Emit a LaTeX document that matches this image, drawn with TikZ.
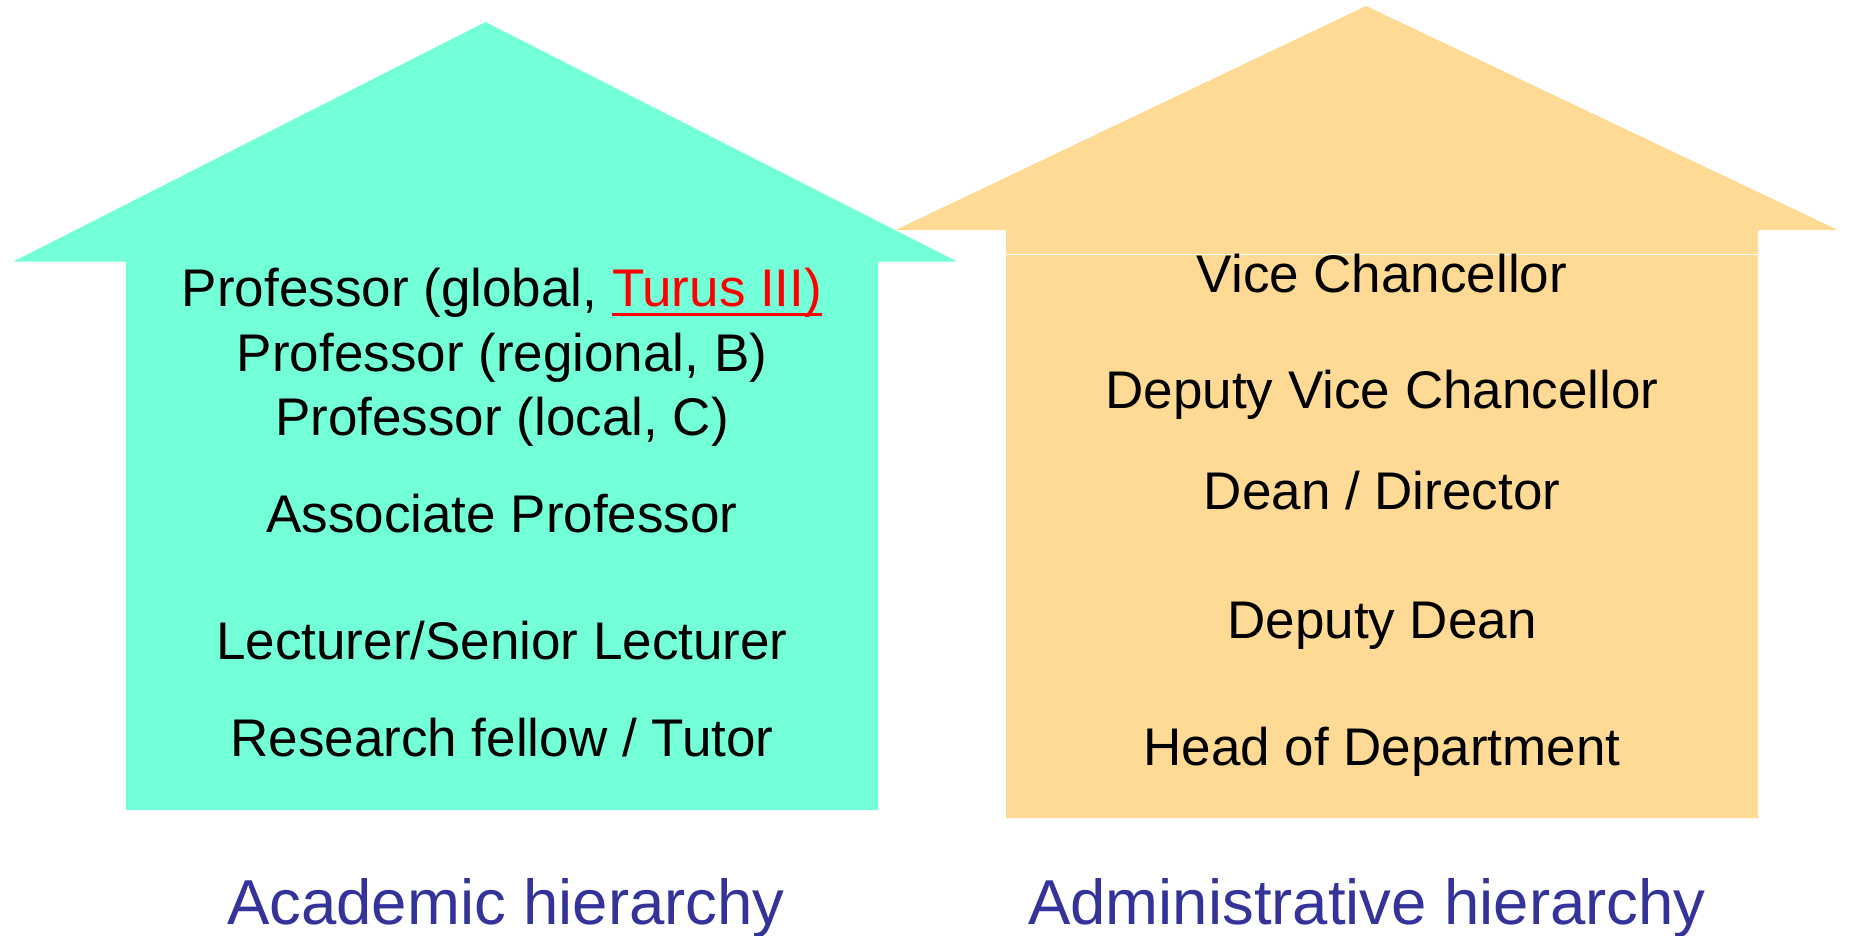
\documentclass[tikz,border=0pt]{standalone}
\usepackage{fontspec}
\setmainfont{Liberation Sans}
\definecolor{acadfill}{RGB}{115,255,216}
\definecolor{adminfill}{RGB}{255,218,148}
\definecolor{captionblue}{RGB}{51,51,153}
\newcommand\redunderline[1]{\setbox0\hbox{#1}\rlap{\rule[-10pt]{\wd0}{3pt}}\box0}
\begin{document}
\begin{tikzpicture}[x=1pt,y=-1pt,
  rank/.style={anchor=base,inner sep=0pt,font=\fontsize{53}{64}\selectfont},
  caption/.style={anchor=base,inner sep=0pt,text=captionblue,font=\fontsize{63.5}{76}\selectfont}]
\useasboundingbox (0,0) rectangle (1849,935);
% administrative house: roof and walls as one outline
\fill[adminfill] (895.5,230) -- (1366,6) -- (1838,230) -- (1758,230)
  -- (1758,818) -- (1006,818) -- (1006,230) -- cycle;
\draw[white,line width=1.5pt] (1006,254.3) -- (1758,254.3);
% academic house: roof and walls as one outline
\fill[acadfill] (13.5,261.5) -- (485.5,22) -- (957,261.5) -- (878,261.5)
  -- (878,810) -- (126,810) -- (126,261.5) -- cycle;
% academic ranks
\node[rank] (pglobal) at (502,306) {Professor (global, \textcolor{red}{\redunderline{Turus III)}}};
\node[rank] (pregional) at (502,371) {Professor (regional, B)};
\node[rank] (plocal) at (502,435) {Professor (local, C)};
\node[rank] (assoc) at (502,532) {Associate Professor};
\node[rank] (lect) at (502,659) {Lecturer/Senior Lecturer};
\node[rank] (fellow) at (502,756) {Research fellow / Tutor};
% administrative ranks
\node[rank] (vc) at (1382,292) {Vice Chancellor};
\node[rank] (dvc) at (1382,408) {Deputy Vice Chancellor};
\node[rank] (dean) at (1382,509.5) {Dean / Director};
\node[rank] (ddean) at (1382,638) {Deputy Dean};
\node[rank] (hod) at (1382,765) {Head of Department};
% captions
\node[caption] (acadcap) at (506,924) {Academic hierarchy};
\node[caption] (admincap) at (1367,924) {Administrative hierarchy};
\end{tikzpicture}
\end{document}
